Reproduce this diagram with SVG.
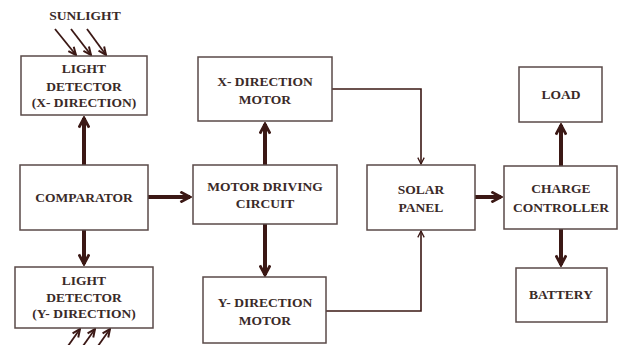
<svg xmlns="http://www.w3.org/2000/svg" width="622" height="345" viewBox="0 0 622 345">
<defs>
<style>
.box{fill:#fff;stroke:#5a4a48;stroke-width:1.5}
.t{font-family:"Liberation Serif","Times New Roman",serif;font-weight:bold;font-size:13.5px;fill:#3a2a28;text-anchor:middle}
.thick{stroke:#3b1815;stroke-width:4;fill:none}
.thin{stroke:#3b1815;stroke-width:1.6;fill:none}
.ray{stroke:#3b1815;stroke-width:1.8;fill:none}
</style>
<marker id="ah" viewBox="0 0 10 10" refX="8.5" refY="5" markerWidth="3.2" markerHeight="3.2" orient="auto" markerUnits="strokeWidth">
<path d="M1,1 L8.5,5 L1,9" fill="none" stroke="#3b1815" stroke-width="2.2" stroke-linejoin="miter"/>
</marker>
<marker id="ahs" viewBox="0 0 10 10" refX="9" refY="5" markerWidth="5" markerHeight="5" orient="auto" markerUnits="strokeWidth">
<path d="M1,1 L9,5 L1,9" fill="none" stroke="#3b1815" stroke-width="1.6"/>
</marker>
<marker id="ahr" viewBox="0 0 10 10" refX="9" refY="5" markerWidth="5.5" markerHeight="5.5" orient="auto" markerUnits="strokeWidth">
<path d="M1,1.5 L9,5 L1,8.5" fill="none" stroke="#3b1815" stroke-width="2"/>
</marker>
</defs>
<rect width="622" height="345" fill="#fff"/>
<text class="t" x="85" y="20">SUNLIGHT</text>
<g id="connectors">
<line class="ray" x1="55" y1="29" x2="76" y2="55" marker-end="url(#ahr)"/>
<line class="ray" x1="71" y1="29" x2="91" y2="55" marker-end="url(#ahr)"/>
<line class="ray" x1="87" y1="29" x2="106" y2="55" marker-end="url(#ahr)"/>
<line class="ray" x1="68" y1="346" x2="80" y2="329" marker-end="url(#ahr)"/>
<line class="ray" x1="83" y1="346" x2="95" y2="329" marker-end="url(#ahr)"/>
<line class="ray" x1="98" y1="346" x2="110" y2="329" marker-end="url(#ahr)"/>
<line class="thick" x1="84" y1="165" x2="84" y2="118" marker-end="url(#ah)"/>
<line class="thick" x1="84" y1="230" x2="84" y2="264" marker-end="url(#ah)"/>
<line class="thick" x1="148" y1="197" x2="190" y2="197" marker-end="url(#ah)"/>
<line class="thick" x1="265" y1="165" x2="265" y2="124" marker-end="url(#ah)"/>
<line class="thick" x1="265" y1="224" x2="265" y2="275" marker-end="url(#ah)"/>
<polyline class="thin" points="332,89 421,89 421,164" marker-end="url(#ahs)"/>
<polyline class="thin" points="326,311 421,311 421,231" marker-end="url(#ahs)"/>
<line class="thick" x1="475" y1="197" x2="501" y2="197" marker-end="url(#ah)"/>
<line class="thick" x1="561" y1="166" x2="561" y2="125" marker-end="url(#ah)"/>
<line class="thick" x1="561" y1="229" x2="561" y2="265" marker-end="url(#ah)"/>
</g>
<g id="ldx">
<rect class="box" x="21" y="56" width="126" height="59"/>
<text class="t" x="84" y="73">LIGHT</text>
<text class="t" x="84" y="91">DETECTOR</text>
<text class="t" x="84" y="107">(X- DIRECTION)</text>
</g>
<g id="comparator">
<rect class="box" x="20" y="165" width="128" height="65"/>
<text class="t" x="84" y="202">COMPARATOR</text>
</g>
<g id="ldy">
<rect class="box" x="15" y="267" width="138" height="61"/>
<text class="t" x="84" y="285">LIGHT</text>
<text class="t" x="84" y="302">DETECTOR</text>
<text class="t" x="84" y="318">(Y- DIRECTION)</text>
</g>
<g id="xmotor">
<rect class="box" x="198" y="57" width="134" height="64"/>
<text class="t" x="265" y="86">X- DIRECTION</text>
<text class="t" x="265" y="104">MOTOR</text>
</g>
<g id="mdc">
<rect class="box" x="193" y="165" width="144" height="59"/>
<text class="t" x="265" y="191">MOTOR DRIVING</text>
<text class="t" x="265" y="208">CIRCUIT</text>
</g>
<g id="ymotor">
<rect class="box" x="203" y="277" width="123" height="66"/>
<text class="t" x="265" y="307">Y- DIRECTION</text>
<text class="t" x="265" y="325">MOTOR</text>
</g>
<g id="solar">
<rect class="box" x="367" y="165" width="108" height="65"/>
<text class="t" x="421" y="194">SOLAR</text>
<text class="t" x="421" y="212">PANEL</text>
</g>
<g id="charge">
<rect class="box" x="504" y="166" width="113" height="63"/>
<text class="t" x="561" y="193">CHARGE</text>
<text class="t" x="561" y="212">CONTROLLER</text>
</g>
<g id="load">
<rect class="box" x="519" y="67" width="83" height="55"/>
<text class="t" x="561" y="99">LOAD</text>
</g>
<g id="battery">
<rect class="box" x="516" y="268" width="91" height="54"/>
<text class="t" x="561" y="299">BATTERY</text>
</g>
</svg>
